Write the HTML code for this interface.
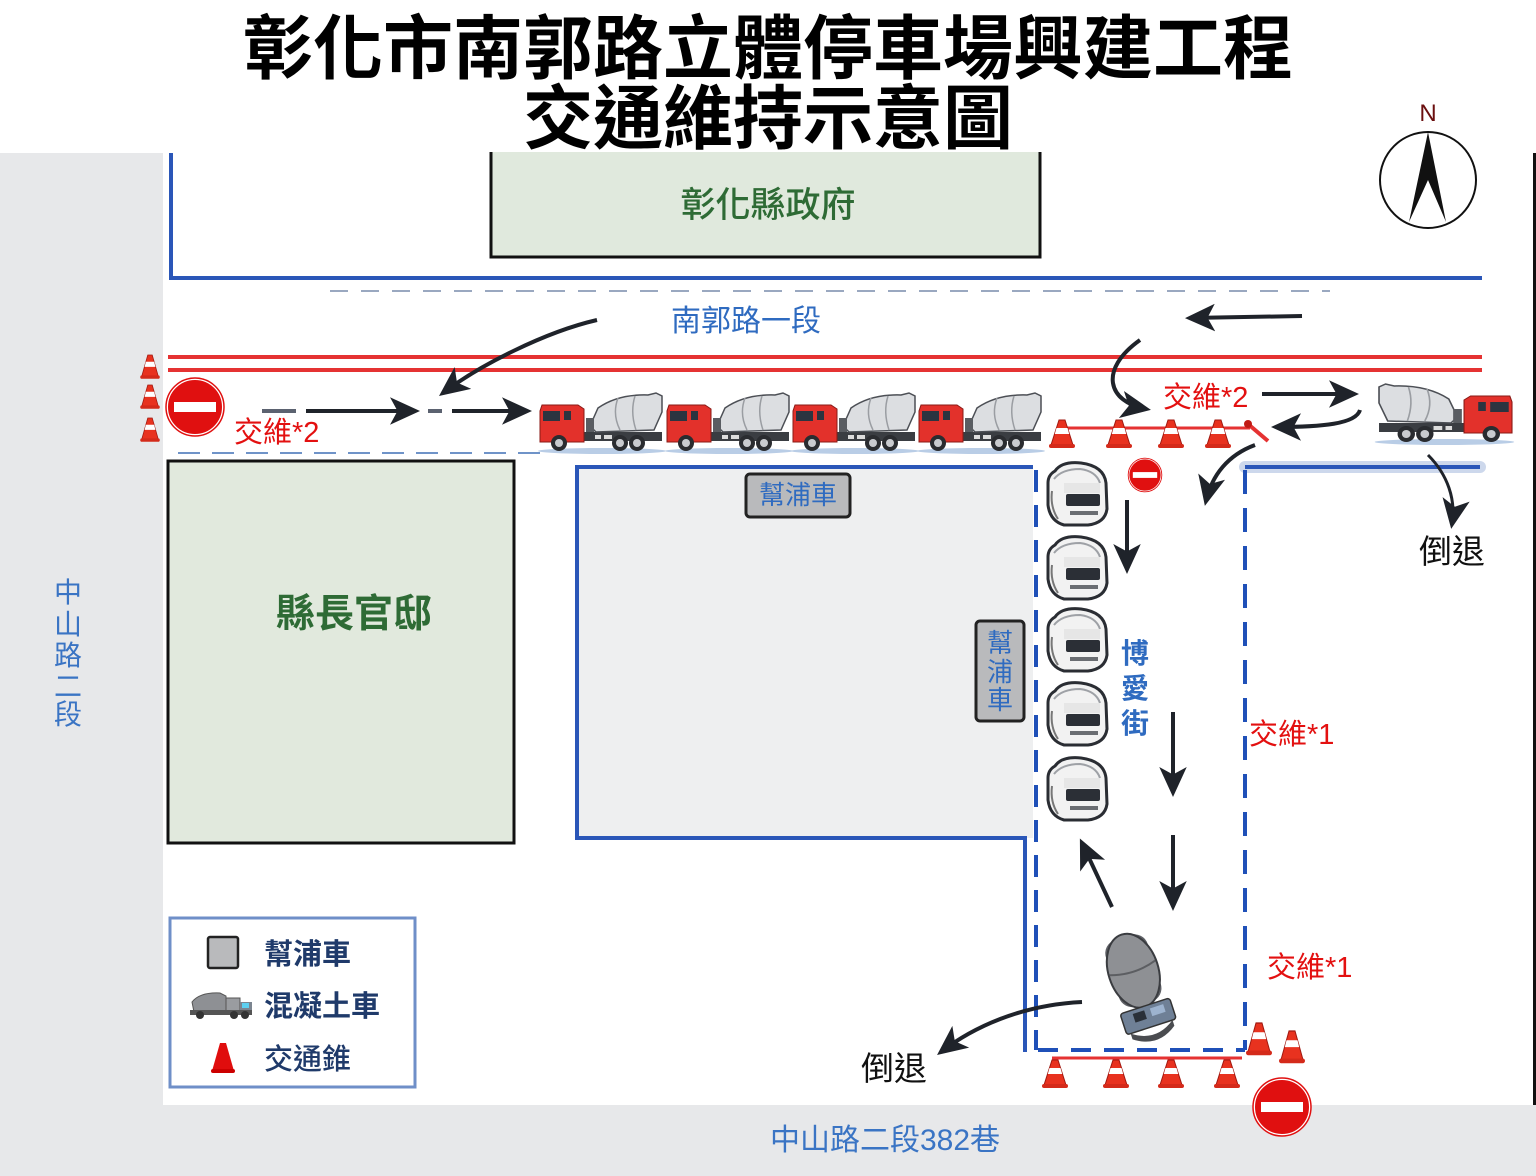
<!DOCTYPE html>
<html><head><meta charset="utf-8">
<style>
html,body{margin:0;padding:0;background:#fff;}
svg{display:block;}
text{font-family:"Liberation Sans","Noto Sans CJK TC","Noto Sans CJK SC",sans-serif;}
</style></head>
<body>
<svg width="1536" height="1176" viewBox="0 0 1536 1176" xmlns="http://www.w3.org/2000/svg">
<defs>
  <marker id="ah" markerUnits="userSpaceOnUse" markerWidth="30" markerHeight="30" viewBox="0 0 24 24" refX="20" refY="12" orient="auto">
    <path d="M0,1 L24,12 L0,23 L6,12 z" fill="#1f232a"/>
  </marker>
  <g id="cone">
    <path d="M9,0 L15,0 L23,25 L1,25 z" fill="#e8321f" stroke="#a01810" stroke-width="1"/>
    <path d="M6.5,8 L17.5,8 L19.2,14 L4.8,14 z" fill="#fff"/>
    <rect x="-1" y="24" width="26" height="4" rx="2" fill="#d42a1a"/>
  </g>
  <g id="noentry">
    <circle cx="0" cy="0" r="28" fill="#e01010" stroke="#fff" stroke-width="2"/>
    <circle cx="0" cy="0" r="29" fill="none" stroke="#e01010" stroke-width="1.5"/>
    <rect x="-21" y="-5" width="42" height="10" fill="#fff"/>
  </g>
  <g id="truckL">
    <ellipse cx="62" cy="59" rx="64" ry="3" fill="#b9cde6"/>
    <rect x="40" y="40" width="82" height="9" fill="#3a3d42"/>
    <path d="M50,34 L58,16 Q78,2 108,3 L116,1 L122,4 L122,20 L114,38 L56,40 z" fill="#dcdee1" stroke="#4c4f55" stroke-width="1.5"/>
    <path d="M78,6 Q72,22 80,38 M95,4 Q90,20 96,38" stroke="#9a9da2" stroke-width="1.5" fill="none"/>
    <rect x="46" y="26" width="8" height="14" fill="#5a5d62"/>
    <path d="M2,13 L38,13 L44,17 L44,50 L0,50 L0,19 z" fill="#e3312b" stroke="#8a1a16" stroke-width="1"/>
    <rect x="3" y="19" width="17" height="10" fill="#2b3440"/>
    <rect x="24" y="19" width="7" height="9" fill="#2b3440"/>
    <circle cx="19" cy="51" r="8" fill="#2a2c30"/><circle cx="19" cy="51" r="4" fill="#c9cbcf"/>
    <circle cx="80" cy="51" r="8" fill="#2a2c30"/><circle cx="80" cy="51" r="4" fill="#c9cbcf"/>
    <circle cx="97" cy="51" r="8" fill="#2a2c30"/><circle cx="97" cy="51" r="4" fill="#c9cbcf"/>
    <rect x="55" y="43" width="6" height="4" fill="#ddd"/><rect x="64" y="43" width="8" height="4" fill="#ddd"/>
  </g>
  <g id="truckF">
    <path d="M9,10 Q16,0 35,2 Q58,5 60,22 L61,48 Q59,62 42,64 L18,64 Q4,60 2,44 L2,22 Q2,14 9,10z" fill="#f2f2f2" stroke="#2a2d33" stroke-width="3"/>
    <path d="M8,18 Q16,8 34,8 Q50,10 54,22" stroke="#9ea1a6" fill="none" stroke-width="2"/>
    <rect x="18" y="22" width="36" height="10" fill="#e6e6e6"/>
    <rect x="20" y="33" width="34" height="12" rx="2" fill="#2b2f36"/>
    <rect x="24" y="50" width="28" height="4" fill="#6a6d72"/>
    <path d="M6,30 Q4,46 12,58" stroke="#777" fill="none" stroke-width="2"/>
  </g>
</defs>

<!-- gray roads -->
<rect x="0" y="153" width="163" height="1023" fill="#e7e8ea"/>
<rect x="0" y="1105" width="1536" height="71" fill="#e7e8ea"/>
<rect x="1533" y="153" width="3" height="952" fill="#111"/>

<!-- county government -->
<rect x="491" y="150" width="549" height="107" fill="#e0e9dd" stroke="#111" stroke-width="3"/>
<rect x="480" y="146" width="570" height="6" fill="#fff"/>
<text x="768" y="217" font-size="35" fill="#2e6b35" text-anchor="middle" font-weight="500">彰化縣政府</text>

<!-- title -->
<text x="768" y="73" font-size="70" font-weight="bold" fill="#000" text-anchor="middle">彰化市南郭路立體停車場興建工程</text>
<text x="768" y="143" font-size="70" font-weight="bold" fill="#000" text-anchor="middle">交通維持示意圖</text>

<!-- north blue boundary -->
<path d="M171,153 L171,278 L1482,278" fill="none" stroke="#2a56b8" stroke-width="4"/>
<line x1="330" y1="291" x2="1330" y2="291" stroke="#9aa8c0" stroke-width="2" stroke-dasharray="18,13"/>
<text x="746" y="331" font-size="30" fill="#2f6bc0" text-anchor="middle">南郭路一段</text>

<!-- red lines -->
<line x1="168" y1="357" x2="1482" y2="357" stroke="#e53232" stroke-width="4"/>
<line x1="168" y1="370" x2="1482" y2="370" stroke="#e53232" stroke-width="4"/>

<!-- left cones + no entry -->
<use href="#cone" transform="translate(141,355) scale(0.75,0.85)"/>
<use href="#cone" transform="translate(141,385) scale(0.75,0.85)"/>
<use href="#cone" transform="translate(141,418) scale(0.75,0.85)"/>
<use href="#noentry" transform="translate(195,407)"/>
<text x="234" y="442" font-size="29" fill="#e31010">交維*2</text>

<!-- dashed arrows top-left -->
<line x1="262" y1="411" x2="296" y2="411" stroke="#5b6270" stroke-width="4"/>
<line x1="306" y1="411" x2="415" y2="411" stroke="#1f232a" stroke-width="4" marker-end="url(#ah)"/>
<line x1="428" y1="411" x2="442" y2="411" stroke="#5b6270" stroke-width="4"/>
<line x1="452" y1="411" x2="527" y2="411" stroke="#1f232a" stroke-width="4" marker-end="url(#ah)"/>
<path d="M597,320 C545,332 480,365 443,393" fill="none" stroke="#1f232a" stroke-width="4" marker-end="url(#ah)"/>

<!-- dashed line under trucks -->
<line x1="178" y1="453" x2="540" y2="453" stroke="#6f93c8" stroke-width="2" stroke-dasharray="22,12"/>

<!-- 縣長官邸 -->
<rect x="168" y="461" width="346" height="382" fill="#e1e9dd" stroke="#111" stroke-width="3"/>
<text x="354" y="627" font-size="39" font-weight="bold" fill="#2e6b35" text-anchor="middle">縣長官邸</text>

<!-- 中山路二段 vertical -->
<text font-size="28" fill="#3a74c4" text-anchor="middle">
  <tspan x="68" y="602">中</tspan><tspan x="68" y="634">山</tspan><tspan x="68" y="665">路</tspan><tspan x="68" y="696">二</tspan><tspan x="68" y="724">段</tspan>
</text>

<!-- pump site -->
<rect x="577" y="467" width="456" height="371" fill="#eeeff0"/>
<path d="M1033,467 L577,467 L577,838 L1025,838 L1025,1052" fill="none" stroke="#2a56b8" stroke-width="4"/>
<rect x="746" y="474" width="104" height="43" rx="4" fill="#b9babc" stroke="#222" stroke-width="3"/>
<text x="798" y="504" font-size="26" fill="#2f6bc0" text-anchor="middle">幫浦車</text>
<rect x="976" y="621" width="48" height="100" rx="4" fill="#b9babc" stroke="#222" stroke-width="3"/>
<text font-size="26" fill="#2f6bc0" text-anchor="middle">
  <tspan x="1000" y="652">幫</tspan><tspan x="1000" y="681">浦</tspan><tspan x="1000" y="709">車</tspan>
</text>

<!-- 4 trucks -->
<use href="#truckL" transform="translate(540,392)"/>
<use href="#truckL" transform="translate(667,392)"/>
<use href="#truckL" transform="translate(793,392)"/>
<use href="#truckL" transform="translate(919,392)"/>

<!-- top-right cones line -->
<line x1="1062" y1="428" x2="1250" y2="428" stroke="#e53232" stroke-width="3"/>
<line x1="1248" y1="424" x2="1268" y2="441" stroke="#e53232" stroke-width="4"/>
<circle cx="1248" cy="424" r="4" fill="#c01a14"/>
<use href="#cone" transform="translate(1050,420)"/>
<use href="#cone" transform="translate(1107,420)"/>
<use href="#cone" transform="translate(1159,420)"/>
<use href="#cone" transform="translate(1206,420)"/>
<text x="1163" y="407" font-size="29" fill="#e31010">交維*2</text>
<use href="#noentry" transform="translate(1145,475) scale(0.58)"/>

<!-- right truck -->
<use href="#truckL" transform="translate(1512,383) scale(-1.09,1)"/>

<!-- right blue boundary -->
<line x1="1245" y1="467" x2="1480" y2="467" stroke="#cdd8ec" stroke-width="12" stroke-linecap="round"/>
<line x1="1245" y1="467" x2="1480" y2="467" stroke="#2a56b8" stroke-width="4"/>
<line x1="1245" y1="470" x2="1245" y2="1050" stroke="#1f50b8" stroke-width="4" stroke-dasharray="24,14"/>

<!-- dashed inner lane -->
<line x1="1036" y1="470" x2="1036" y2="1050" stroke="#1f50b8" stroke-width="4" stroke-dasharray="22,13"/>
<line x1="1038" y1="1050" x2="1245" y2="1050" stroke="#1f50b8" stroke-width="4" stroke-dasharray="20,13"/>

<!-- top arrows right -->
<line x1="1302" y1="316" x2="1190" y2="318" stroke="#1f232a" stroke-width="4" marker-end="url(#ah)"/>
<path d="M1140,340 C1098,370 1108,402 1146,409" fill="none" stroke="#1f232a" stroke-width="4" marker-end="url(#ah)"/>
<line x1="1262" y1="394" x2="1354" y2="394" stroke="#1f232a" stroke-width="4" marker-end="url(#ah)"/>
<path d="M1360,410 C1356,424 1322,427 1276,427" fill="none" stroke="#1f232a" stroke-width="4" marker-end="url(#ah)"/>
<path d="M1255,445 C1228,455 1212,475 1206,501" fill="none" stroke="#1f232a" stroke-width="4" marker-end="url(#ah)"/>
<path d="M1428,455 C1448,475 1456,500 1452,524" fill="none" stroke="#1f232a" stroke-width="3" marker-end="url(#ah)"/>
<text x="1452" y="563" font-size="33" fill="#111" text-anchor="middle">倒退</text>

<!-- front view trucks -->
<use href="#truckF" transform="translate(1046,461)"/>
<use href="#truckF" transform="translate(1046,535)"/>
<use href="#truckF" transform="translate(1046,607)"/>
<use href="#truckF" transform="translate(1046,681)"/>
<use href="#truckF" transform="translate(1046,756)"/>

<text font-size="28" font-weight="bold" fill="#2f6bc0" text-anchor="middle">
  <tspan x="1135" y="663">博</tspan><tspan x="1135" y="698">愛</tspan><tspan x="1135" y="733">街</tspan>
</text>

<line x1="1127" y1="500" x2="1127" y2="569" stroke="#1f232a" stroke-width="4" marker-end="url(#ah)"/>
<line x1="1173" y1="712" x2="1173" y2="792" stroke="#1f232a" stroke-width="4" marker-end="url(#ah)"/>
<line x1="1173" y1="835" x2="1173" y2="906" stroke="#1f232a" stroke-width="4" marker-end="url(#ah)"/>
<line x1="1112" y1="907" x2="1082" y2="843" stroke="#1f232a" stroke-width="4" marker-end="url(#ah)"/>

<text x="1249" y="744" font-size="29" fill="#e31010">交維*1</text>
<text x="1267" y="977" font-size="29" fill="#e31010">交維*1</text>

<!-- rotated bottom truck -->
<g transform="translate(1138,985) rotate(-18)">
  <rect x="-22" y="-50" width="44" height="70" rx="14" fill="#5f6166"/>
  <ellipse cx="0" cy="-15" rx="25" ry="38" fill="#8e9094" stroke="#3a3c40" stroke-width="2"/>
  <path d="M-24,-18 Q0,-10 24,-18" stroke="#5c5e62" fill="none" stroke-width="2"/>
  <rect x="-26" y="22" width="52" height="22" rx="3" fill="#6f8096" stroke="#333" stroke-width="1.5"/>
  <rect x="-14" y="26" width="12" height="9" fill="#2a3038"/>
  <rect x="4" y="26" width="14" height="8" fill="#9db3cf"/>
  <path d="M-22,44 Q0,60 22,44 L22,50 Q0,66 -22,50 z" fill="#4a4c50"/>
</g>

<!-- 倒退 bottom -->
<path d="M1082,1002 C1020,1005 972,1028 941,1052" fill="none" stroke="#1f232a" stroke-width="4" marker-end="url(#ah)"/>
<text x="894" y="1080" font-size="33" fill="#111" text-anchor="middle">倒退</text>

<!-- bottom cones -->
<line x1="1052" y1="1058" x2="1242" y2="1058" stroke="#e53232" stroke-width="3"/>
<use href="#cone" transform="translate(1043,1060)"/>
<use href="#cone" transform="translate(1104,1060)"/>
<use href="#cone" transform="translate(1159,1060)"/>
<use href="#cone" transform="translate(1215,1060)"/>
<use href="#cone" transform="translate(1247,1023) scale(1,1.15)"/>
<use href="#cone" transform="translate(1280,1031) scale(1,1.15)"/>
<use href="#noentry" transform="translate(1282,1107)"/>

<text x="885" y="1150" font-size="30" fill="#3a74c4" text-anchor="middle">中山路二段382巷</text>

<!-- legend -->
<rect x="170" y="918" width="245" height="169" fill="#fff" stroke="#6f8fc8" stroke-width="3"/>
<rect x="208" y="937" width="30" height="31" rx="2" fill="#b9babc" stroke="#222" stroke-width="2.5"/>
<text x="264" y="964" font-size="29" font-weight="bold" fill="#1f3a6a">幫浦車</text>
<g transform="translate(190,990)">
  <path d="M2,12 Q10,2 30,3 L36,6 L36,22 L4,22 z" fill="#8e9094" stroke="#555" stroke-width="1"/>
  <rect x="36" y="8" width="14" height="16" fill="#9a9ca0" stroke="#555" stroke-width="1"/>
  <rect x="50" y="12" width="12" height="12" fill="#7c8590"/>
  <rect x="52" y="13" width="7" height="5" fill="#5ed0f0"/>
  <rect x="0" y="20" width="62" height="5" fill="#555"/>
  <circle cx="10" cy="25" r="4" fill="#333"/><circle cx="44" cy="25" r="4" fill="#333"/><circle cx="55" cy="25" r="4" fill="#333"/>
</g>
<text x="264" y="1016" font-size="29" font-weight="bold" fill="#1f3a6a">混凝土車</text>
<path d="M220,1043 L226,1043 L234,1071 L212,1071 z" fill="#e00d0d"/>
<rect x="211" y="1069" width="24" height="4" rx="2" fill="#c00"/>
<text x="264" y="1069" font-size="29" font-weight="500" fill="#1f3a6a">交通錐</text>

<!-- compass -->
<text x="1428" y="121" font-size="24" fill="#6b0f0f" text-anchor="middle">N</text>
<circle cx="1428" cy="180" r="48" fill="#fff" stroke="#111" stroke-width="2"/>
<path d="M1428,132 L1446,222 L1428,180 L1409,222 z" fill="#111"/>
</svg>
</body></html>
